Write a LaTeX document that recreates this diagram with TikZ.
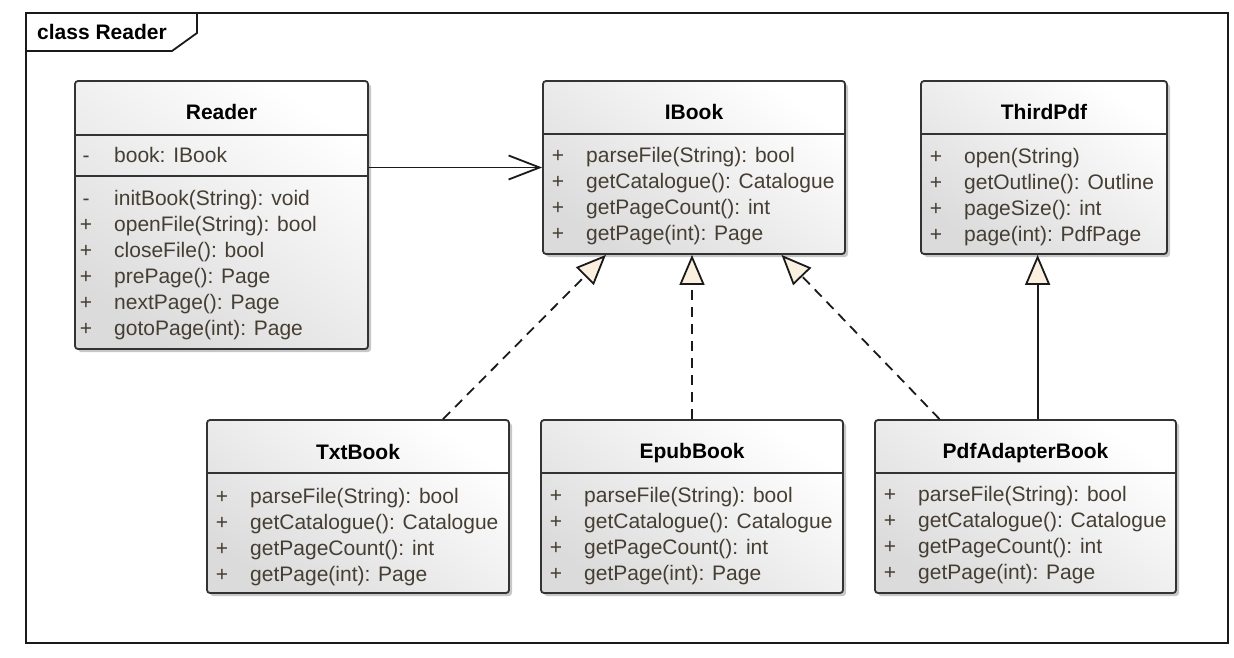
\documentclass[tikz,border=0pt]{standalone}
\usepackage{fontspec}
\setmainfont{Liberation Sans}
\usetikzlibrary{arrows.meta,shadows,calc}
\definecolor{frm}{HTML}{1A1A1A}
\definecolor{boxln}{HTML}{333333}
\definecolor{itemc}{HTML}{453E33}
\definecolor{tri}{HTML}{FBF0E0}
\tikzset{
  classbox/.style={draw=boxln, line width=1.8pt, rounded corners=3pt,
    top color=white, bottom color=black!14, shading angle=-35,
    drop shadow={shadow xshift=3pt, shadow yshift=-3pt, opacity=0.22, fill=black},
    inner sep=0pt},
  sepline/.style={draw=boxln, line width=1.8pt},
  ctitle/.style={font=\fontsize{21}{24}\selectfont\bfseries, text=black, anchor=base, inner sep=0pt},
  vis/.style={font=\fontsize{21}{24}\selectfont, text=itemc, anchor=base, inner sep=0pt},
  item/.style={font=\fontsize{21}{24}\selectfont, text=itemc, anchor=base west, inner sep=0pt},
  assoc/.style={draw=frm, line width=1.8pt, -{Straight Barb[length=31pt, width=24pt, line width=1.8pt]}},
  realize/.style={draw=frm, line width=1.8pt, dash pattern=on 10pt off 7pt,
    -{Triangle[open, fill=tri, length=30pt, width=25pt, line width=1.8pt]}},
  generalize/.style={draw=frm, line width=1.8pt,
    -{Triangle[open, fill=tri, length=30pt, width=25pt, line width=1.8pt]}},
}
\newcommand\members[4]{%
  \foreach \v/\t [count=\i from 0] in {#4} {
    \node[vis] (#1v\i) at (#2+15, #3+26*\i) {\v};
    \node[item] (#1m\i) at (#2+43, #3+26*\i) {\t};
  }}
\begin{document}
\begin{tikzpicture}[x=1pt, y=-1pt]
\useasboundingbox (0,0) rectangle (1234,658);
\fill[white] (0,0) rectangle (1234,658);

% frame
\draw[frm, line width=1.8pt] (26,13) rectangle (1228,643);
\draw[frm, line width=1.8pt] (26,51) -- (172,51) -- (197,33) -- (197,13);
\node[ctitle, anchor=base west] (frametitle) at (37,39.5) {class Reader};

% Reader
\node[classbox, minimum width=293pt, minimum height=268pt] (reader) at (221.5,215) {};
\draw[sepline] (75,135) -- (368,135);
\draw[sepline] (75,176) -- (368,176);
\node[ctitle] (readerT) at (221.5,119.5) {Reader};
\members{ra}{71}{162.5}{-/book: IBook}
\members{rm}{71}{205.5}{-/initBook(String): void,+/openFile(String): bool,+/closeFile(): bool,+/prePage(): Page,+/nextPage(): Page,+/gotoPage(int): Page}

% IBook
\node[classbox, minimum width=302pt, minimum height=173pt] (ibook) at (694,167.5) {};
\draw[sepline] (543,134) -- (845,134);
\node[ctitle] (ibookT) at (694,119.5) {IBook};
\members{ib}{543}{162.5}{+/parseFile(String): bool,+/getCatalogue(): Catalogue,+/getPageCount(): int,+/getPage(int): Page}

% ThirdPdf
\node[classbox, minimum width=246pt, minimum height=173pt] (third) at (1044,167.5) {};
\draw[sepline] (921,134) -- (1167,134);
\node[ctitle] (thirdT) at (1044,119.5) {ThirdPdf};
\members{tp}{921}{163.5}{+/open(String),+/getOutline(): Outline,+/pageSize(): int,+/page(int): PdfPage}

% TxtBook
\node[classbox, minimum width=302pt, minimum height=173pt] (txt) at (358,506.5) {};
\draw[sepline] (207,473) -- (509,473);
\node[ctitle] (txtT) at (358,459) {TxtBook};
\members{tx}{207}{503}{+/parseFile(String): bool,+/getCatalogue(): Catalogue,+/getPageCount(): int,+/getPage(int): Page}

% EpubBook
\node[classbox, minimum width=302pt, minimum height=173pt] (epub) at (692,506.5) {};
\draw[sepline] (541,473) -- (843,473);
\node[ctitle] (epubT) at (692,458) {EpubBook};
\members{ep}{541}{502}{+/parseFile(String): bool,+/getCatalogue(): Catalogue,+/getPageCount(): int,+/getPage(int): Page}

% PdfAdapterBook
\node[classbox, minimum width=301pt, minimum height=173pt] (pdf) at (1025.5,506.5) {};
\draw[sepline] (875,473) -- (1176,473);
\node[ctitle] (pdfT) at (1025.5,458) {PdfAdapterBook};
\members{pa}{875}{501}{+/parseFile(String): bool,+/getCatalogue(): Catalogue,+/getPageCount(): int,+/getPage(int): Page}

% connectors
\draw[assoc] (reader.east |- ibook.west) -- (ibook.west);
\draw[realize] ($(txt.north west)!0.78!(txt.north east)$) -- ($(ibook.south west)!0.21!(ibook.south east)$);
\draw[realize] (epub.north) -- (epub.north |- ibook.south);
\draw[realize] ($(pdf.north west)!0.216!(pdf.north east)$) -- ($(ibook.south west)!0.788!(ibook.south east)$);
\coordinate (pg) at ($(pdf.north west)!0.54!(pdf.north east)$);
\draw[generalize] (pg) -- (pg |- third.south);
\end{tikzpicture}
\end{document}
